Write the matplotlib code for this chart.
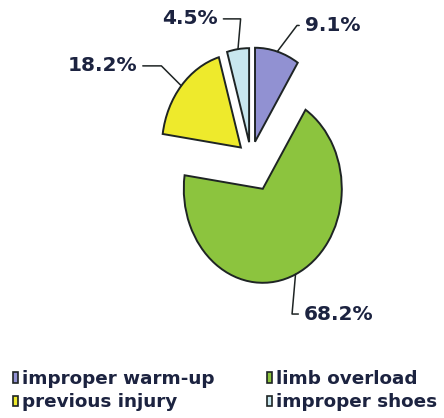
import matplotlib.pyplot as plt
import numpy as np

# data
labels = ["improper warm-up", "limb overload", "previous injury", "improper shoes"]
values = [9.1, 68.2, 18.2, 4.5]
colors = ["#9191d2", "#8cc43e", "#eeea2c", "#c8e7ef"]
explode = [0.18, 0.36, 0.17, 0.17]

# label text placement (data units, pie radius = 1)
lab_xy = [(0.68, 1.41), (0.67, -1.66), (-1.44, 0.98), (-0.42, 1.48)]
lab_ha = ["left", "left", "right", "right"]
lab_angB = [53, 85, -45, 85]

txt_col = "#1c2340"

fig = plt.figure(figsize=(4.44, 4.18), dpi=100)
ax = fig.add_axes([0, 0, 1, 1])

wedges, _ = ax.pie(values, colors=colors, explode=explode, startangle=90,
                   counterclock=False,
                   wedgeprops=dict(edgecolor="#1e2424", linewidth=1.4))
# stretched (oval) pie like the original
ax.set_aspect("auto")
ax.set_xlim(-251 / 79, (444 - 251) / 79)
ax.set_ylim((158 - 418) / 94, 158 / 94)
ax.axis("off")

for w, v, xy, ha, angB in zip(wedges, values, lab_xy, lab_ha, lab_angB):
    mid = np.deg2rad((w.theta1 + w.theta2) / 2)
    cx, cy = w.center
    anchor = (cx + np.cos(mid) * w.r, cy + np.sin(mid) * w.r)
    ax.annotate("%.1f%%" % v, xy=anchor, xytext=xy, ha=ha, va="center",
                fontsize=14.5, fontweight="bold", color=txt_col,
                annotation_clip=False,
                arrowprops=dict(arrowstyle="-", color="#1e2424", lw=1.1,
                                shrinkA=2, shrinkB=0,
                                connectionstyle="angle,angleA=0,angleB=%d,rad=0" % angB))

order = [0, 2, 1, 3]
leg = fig.legend([wedges[i] for i in order], [labels[i] for i in order],
                 loc="upper left", bbox_to_anchor=(0.029, 0.115), ncol=2,
                 frameon=False, handlelength=0.3, handleheight=0.5,
                 handletextpad=0.2, columnspacing=2.85, labelspacing=0.3,
                 borderaxespad=0, borderpad=0,
                 prop=dict(family="DejaVu Sans", weight="bold", size=13.2))
for t in leg.get_texts():
    t.set_color(txt_col)
for p in leg.get_patches():
    p.set_linewidth(1.2)

fig.savefig("out.png", dpi=100)
